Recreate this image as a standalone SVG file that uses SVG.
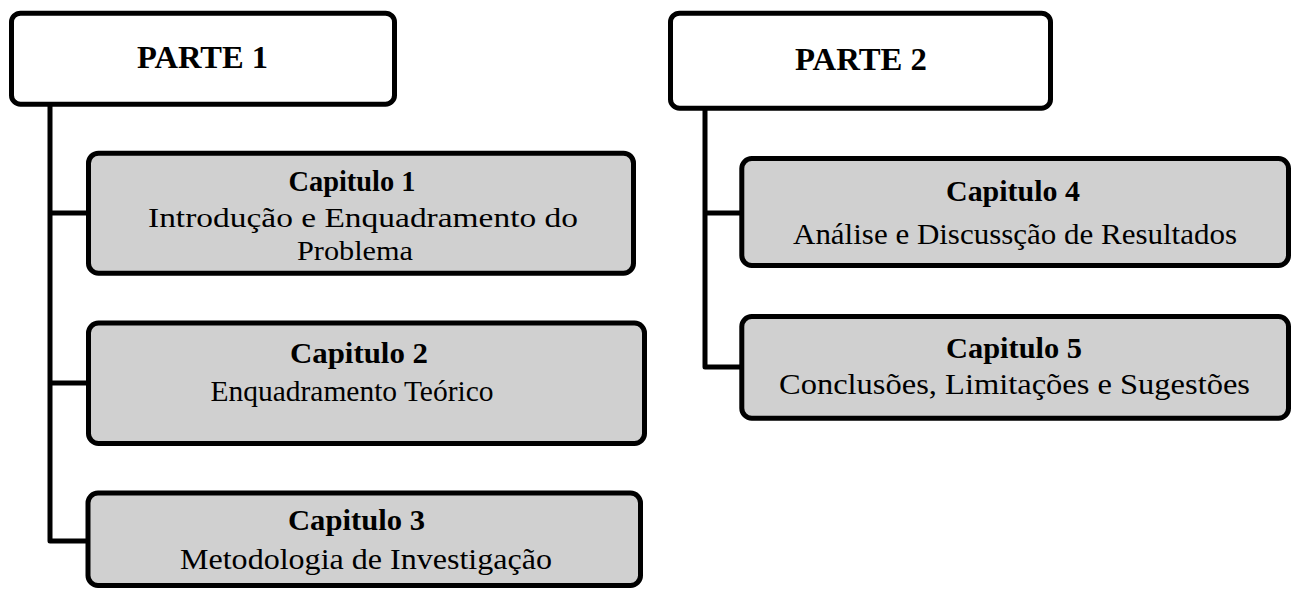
<svg xmlns="http://www.w3.org/2000/svg" width="1291" height="589" viewBox="0 0 1291 589">
<style>
.box{stroke:#000;stroke-width:5;stroke-linejoin:round}
.part{fill:#fff}
.chap{fill:#d0d0d0}
.conn{fill:none;stroke:#000;stroke-width:5;stroke-linejoin:round}
text{font-family:"Liberation Serif","Times New Roman",serif;fill:#000;text-anchor:middle}
.h{font-weight:bold;font-size:31px}
.c{font-weight:bold;font-size:30px}
.t{font-size:30px}
.t2{font-size:28px}
</style>
<rect width="1291" height="589" fill="#fff"/>
<g id="connectors">
<path class="conn" d="M50,106 V541 H88 M50,213 H88 M50,383 H88"/>
<path class="conn" d="M705,110 V367 H741 M705,213 H741"/>
</g>
<g id="parte1">
<rect class="box part" x="11.5" y="13.2" width="383" height="91" rx="9"/>
<text class="h" x="202.5" y="68" textLength="131" lengthAdjust="spacingAndGlyphs">PARTE 1</text>
</g>
<g id="parte2">
<rect class="box part" x="670.5" y="13.2" width="380" height="95" rx="9"/>
<text class="h" x="861" y="70" textLength="132" lengthAdjust="spacingAndGlyphs">PARTE 2</text>
</g>
<g id="cap1">
<rect class="box chap" x="88.5" y="153.2" width="545" height="120" rx="10"/>
<text class="c" x="352" y="191" textLength="127" lengthAdjust="spacingAndGlyphs">Capitulo 1</text>
<text class="t2" x="363" y="227" textLength="430" lengthAdjust="spacingAndGlyphs">Introdução e Enquadramento do</text>
<text class="t2" x="355" y="260" textLength="116" lengthAdjust="spacingAndGlyphs">Problema</text>
</g>
<g id="cap2">
<rect class="box chap" x="88.5" y="323" width="556" height="120.5" rx="10"/>
<text class="c" x="359" y="363" textLength="138" lengthAdjust="spacingAndGlyphs">Capitulo 2</text>
<text class="t" x="352" y="401" textLength="283" lengthAdjust="spacingAndGlyphs">Enquadramento Teórico</text>
</g>
<g id="cap3">
<rect class="box chap" x="88" y="493" width="552.5" height="92.5" rx="10"/>
<text class="c" x="356.5" y="530" textLength="137" lengthAdjust="spacingAndGlyphs">Capitulo 3</text>
<text class="t" x="366" y="569" textLength="372" lengthAdjust="spacingAndGlyphs">Metodologia de Investigação</text>
</g>
<g id="cap4">
<rect class="box chap" x="741.8" y="158.5" width="546.7" height="107" rx="10"/>
<text class="c" x="1013" y="201" textLength="134" lengthAdjust="spacingAndGlyphs">Capitulo 4</text>
<text class="t" x="1015" y="244" textLength="444" lengthAdjust="spacingAndGlyphs">Análise e Discussção de Resultados</text>
</g>
<g id="cap5">
<rect class="box chap" x="741.8" y="316.5" width="546.7" height="101.7" rx="10"/>
<text class="c" x="1014" y="358" textLength="136" lengthAdjust="spacingAndGlyphs">Capitulo 5</text>
<text class="t" x="1014.5" y="394" textLength="471" lengthAdjust="spacingAndGlyphs">Conclusões, Limitações e Sugestões</text>
</g>
</svg>
